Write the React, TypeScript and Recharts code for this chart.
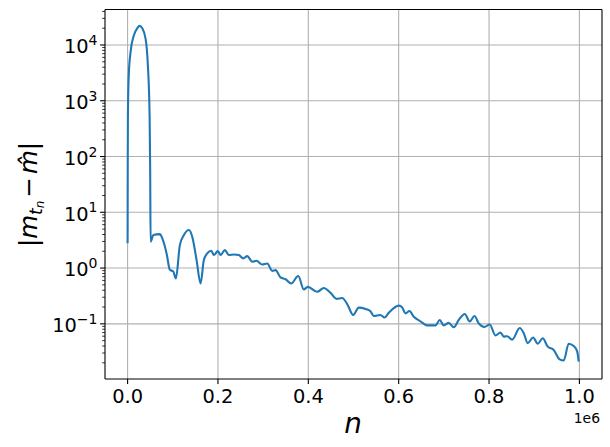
import React from "react";
import { CartesianGrid, Line, LineChart, ReferenceLine, XAxis, YAxis } from "recharts";

// iteration n and error |m_tn - m_hat|
const nValues = [
  0, 300, 700, 2600, 6600, 13900, 21500, 26500, 32500, 39800, 44900, 48700, 50000, 50900,
  56900, 71500, 76800, 86300, 93600, 101100, 106900, 115700, 124600, 135600, 143100, 152700,
  161500, 168800, 176300, 185200, 190900, 199800, 205800, 215300, 224100, 235200, 246200,
  256000, 264800, 275900, 285400, 298000, 309100, 320100, 327400, 338500, 349600, 362200,
  377700, 390000, 398900, 419700, 434300, 449100, 462400, 475000, 486100, 499300, 511700,
  526500, 537600, 544900, 559700, 568600, 578100, 600200, 607500, 615000, 623900, 633400,
  648200, 663100, 681400, 690900, 699800, 710800, 721900, 732900, 746200, 757300, 767700,
  777200, 789800, 801500, 814200, 825200, 832500, 840000, 851100, 867900, 876800, 885600,
  897600, 907700, 918800, 929900, 943100, 956400, 965300, 976300, 987400, 995000, 998500,
];
const errValues = [
  2.8, 60, 550, 2900, 7500, 15000, 20000, 22000, 20000, 13000, 4300, 550, 60, 2.96,
  3.9, 4.06, 3.4, 1.83, 0.93, 0.87, 0.65, 2.58, 3.9, 4.8, 3.64, 1.39,
  0.53, 1.39, 1.83, 2.04, 1.71, 2.02, 1.71, 2.1, 1.71, 1.75, 1.71,
  1.49, 1.64, 1.3, 1.35, 1.16, 1.21, 0.89, 0.92, 0.68, 0.63, 0.53,
  0.72, 0.415, 0.46, 0.375, 0.44, 0.36, 0.28, 0.29, 0.226, 0.144, 0.195,
  0.185, 0.168, 0.138, 0.144, 0.13, 0.158, 0.212, 0.198, 0.154, 0.17, 0.134,
  0.111, 0.094, 0.094, 0.117, 0.094, 0.104, 0.087, 0.117, 0.15, 0.11, 0.138,
  0.102, 0.088, 0.097, 0.062, 0.07, 0.059, 0.06, 0.052, 0.084, 0.068, 0.045,
  0.057, 0.044, 0.055, 0.039, 0.034, 0.023, 0.022, 0.044, 0.04, 0.032, 0.021,
];

const xTicks = [0, 200000, 400000, 600000, 800000, 1000000];
const yMajor = [0.1, 1, 10, 100, 1000, 10000];
const yExponents = ["−1", "0", "1", "2", "3", "4"];
const yMinor = [
  0.02, 0.03, 0.04, 0.05, 0.06, 0.07, 0.08, 0.09,
  0.2, 0.3, 0.4, 0.5, 0.6, 0.7, 0.8, 0.9,
  2, 3, 4, 5, 6, 7, 8, 9,
  20, 30, 40, 50, 60, 70, 80, 90,
  200, 300, 400, 500, 600, 700, 800, 900,
  2000, 3000, 4000, 5000, 6000, 7000, 8000, 9000,
  20000, 30000, 40000,
];

const xDomain = [-50000, 1050000];
const yDomain = [0.01025, 43300];

const data = nValues.map((n, i) => ({ n, err: errValues[i] }));
const yTicks = [...yMajor, ...yMinor].sort((a, b) => a - b);

const FONT = "DejaVu Sans";

function YTick(props: any) {
  const { x, y, payload } = props;
  const idx = yMajor.indexOf(payload.value);
  const major = idx >= 0;
  return (
    <g>
      <line x1={x} x2={x - (major ? 4.9 : 2.8)} y1={y} y2={y} stroke="#000" strokeWidth={major ? 1.1 : 0.8} />
      {major && (
        <text x={x - 7.5} y={y + 8.3} textAnchor="end" fontFamily={FONT} fontSize={19.4} fill="#000">
          <tspan>10</tspan>
          <tspan fontSize={14} dy={-8.3}>{yExponents[idx]}</tspan>
        </text>
      )}
    </g>
  );
}

const yLabel = () => (
  <text
    x={37}
    y={194.5}
    transform="rotate(-90 37 194.5)"
    textAnchor="middle"
    fontFamily={FONT}
    fontSize={24.5}
    fill="#000"
  >
    <tspan>|</tspan>
    <tspan fontStyle="italic">m</tspan>
    <tspan fontStyle="italic" fontSize={17} dy={4.5}>t</tspan>
    <tspan fontStyle="italic" fontSize={12} dy={2.5}>n</tspan>
    <tspan dy={-7} dx={3}>−</tspan>
    <tspan fontStyle="italic" dx={3}>m̂</tspan>
    <tspan>|</tspan>
  </text>
);

const xLabel = () => (
  <g>
    <text x={353} y={433} textAnchor="middle" fontFamily={FONT} fontStyle="italic" fontSize={27.8} fill="#000">
      n
    </text>
    <text x={600} y={423} textAnchor="end" fontFamily={FONT} fontSize={13.9} fill="#000">
      1e6
    </text>
  </g>
);

export default function App() {
  return (
    <div style={{ position: "absolute", left: 0, top: 0, background: "#fff" }}>
      <LineChart width={610} height={447} data={data} margin={{ top: 9.5, right: 8, bottom: 0, left: 0 }}>
        <CartesianGrid stroke="#b0b0b0" strokeWidth={1.1} horizontalValues={yMajor} verticalValues={xTicks} />
        <XAxis
          dataKey="n"
          type="number"
          domain={xDomain}
          allowDataOverflow
          ticks={xTicks}
          tickFormatter={(v: number) => (v / 1e6).toFixed(1)}
          height={68}
          stroke="#000"
          strokeWidth={1.1}
          tickSize={4.9}
          tickMargin={4.9}
          tick={{ fill: "#000", fontSize: 19.4, fontFamily: FONT }}
          label={{ content: xLabel }}
        />
        <YAxis
          type="number"
          scale="log"
          domain={yDomain}
          allowDataOverflow
          ticks={yTicks}
          interval={0}
          width={105}
          stroke="#000"
          strokeWidth={1.1}
          tickLine={false}
          tickSize={0}
          tickMargin={0}
          tick={<YTick />}
          label={{ content: yLabel }}
        />
        <Line
          type="monotone"
          dataKey="err"
          stroke="#1f77b4"
          strokeWidth={2.1}
          dot={false}
          isAnimationActive={false}
        />
        <ReferenceLine y={yDomain[1]} stroke="#000" strokeWidth={1.1} />
        <ReferenceLine x={xDomain[1]} stroke="#000" strokeWidth={1.1} />
      </LineChart>
    </div>
  );
}
